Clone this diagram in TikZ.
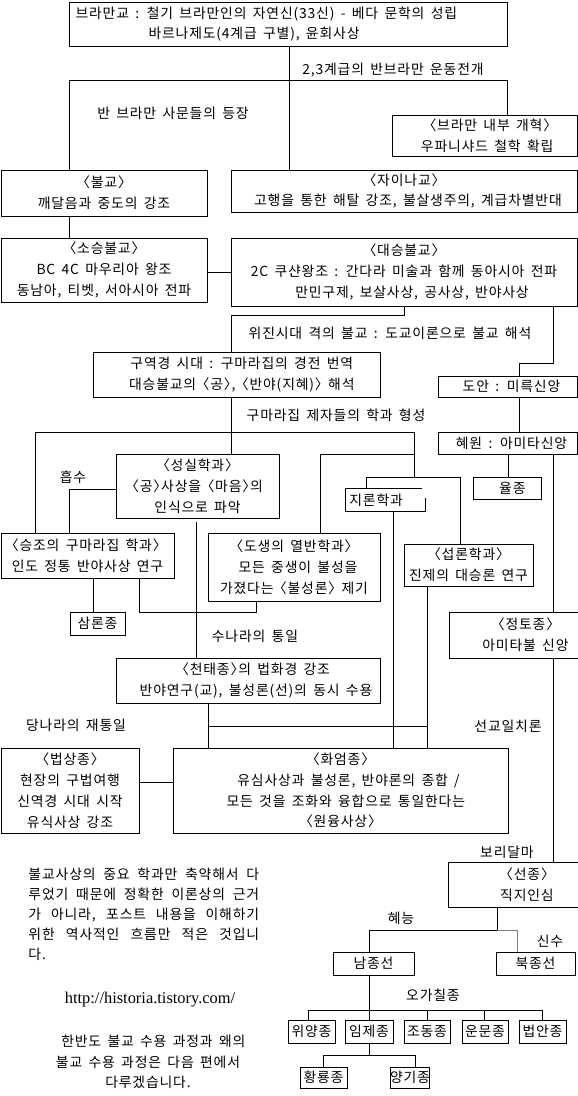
\documentclass[tikz,border=0pt]{standalone}
\usepackage{fontspec}
\setmainfont{Noto Sans CJK KR}[WordSpace=1.6, LetterSpace=6, RawFeature=+halt]
\newfontfamily\urlfont{Liberation Serif}
\usetikzlibrary{calc}
\newcommand\kfs{\fontsize{10.4pt}{15.6pt}\selectfont}
\newcommand\mkbox[7][]{\node[bx,#1, minimum width={(#5-#3)*0.75pt}, minimum height={(#6-#4)*0.75pt}] (#2) at ({(#3+#5)/2},{(#4+#6)/2}) {#7};}
\begin{document}
\begin{tikzpicture}[x=0.75pt,y=-0.75pt,line width=0.75pt,
  bx/.style={draw, inner sep=0pt, align=center, font=\kfs},
  lbl/.style={inner sep=0pt, font=\kfs}]
\fill[white] (0,0) rectangle (578,1096);
\useasboundingbox (0,0) rectangle (578,1096);
\clip (0,0) rectangle (578,1096);

% ---------- boxes ----------
\mkbox{top}{69}{2}{507}{46}{}
\node[lbl, anchor=west] (t1) at (75,14) {브라만교 : 철기 브라만인의 자연신(33신) - 베다 문학의 성립};
\node[lbl, anchor=west] (t2) at (148,34) {바르나제도(4계급 구별), 윤회사상};
\mkbox{brm}{392}{115}{577}{156}{\hspace*{8pt}〈브라만 내부 개혁〉\\\hspace*{4pt}우파니샤드 철학 확립}
\mkbox{bul}{1}{170}{207}{216}{〈불교〉\\깨달음과 중도의 강조}
\mkbox{jn}{231}{170}{577}{212}{〈자이나교〉\\\hspace*{6pt}고행을 통한 해탈 강조, 불살생주의, 계급차별반대}
\mkbox{sos}{1}{238}{207}{302}{〈소승불교〉\\BC 4C 마우리아 왕조\\동남아, 티벳, 서아시아 전파}
\mkbox{ds}{231}{238}{577}{306}{〈대승불교〉\\2C 쿠샨왕조 : 간다라 미술과 함께 동아시아 전파\\\hspace*{12pt}만민구제, 보살사상, 공사상, 반야사상}
\mkbox{gy}{93}{352}{380}{397}{\hspace*{8pt}구역경 시대 : 구마라집의 경전 번역\\\hspace*{8pt}대승불교의 〈공〉, 〈반야(지혜)〉 해석}
\mkbox{da}{438}{376}{577}{397}{\hspace*{6pt}도안 : 미륵신앙}
\mkbox{hw}{438}{432}{577}{454}{\hspace*{6pt}혜원 : 아미타신앙}
\mkbox{yj}{473}{477}{541}{499}{\hspace*{8pt}율종}
\mkbox{ss}{116}{454}{279}{518}{〈성실학과〉\\〈공〉사상을 〈마음〉의\\인식으로 파악}
\node[inner sep=0pt, minimum width={79*0.75pt}, minimum height={22*0.75pt}, font=\kfs] (jr) at (385.5,500) {\hspace*{-14pt}지론학과};
\draw ($(jr.north east)+(-4,0)$) -- (jr.north west) -- (jr.south west) -- (jr.south east) -- ($(jr.north east)+(0,9)$);
\mkbox[align=left]{sz}{1}{533}{174}{578}{〈승조의 구마라집 학과〉\\인도 정통 반야사상 연구}
\mkbox{dsg}{208}{533}{380}{601}{〈도생의 열반학과〉\\\hspace*{6pt}모든 중생이 불성을\\가졌다는 〈불성론〉 제기}
\mkbox{sr}{404}{544}{533}{586}{〈섭론학과〉\\진제의 대승론 연구}
\mkbox{sam}{70}{612}{125}{635}{삼론종}
\mkbox{jt}{449}{612}{602}{658}{〈정토종〉\\아미타불 신앙}
\mkbox{ct}{116}{658}{380}{703}{\hspace*{12pt}〈천태종〉의 법화경 강조\\\hspace*{12pt}반야연구(교), 불성론(선)의 동시 수용}
\mkbox{bs}{1}{748}{139}{833}{〈법상종〉\\현장의 구법여행\\신역경 시대 시작\\유식사상 강조}
\mkbox{hy}{173}{748}{508}{833}{〈화엄종〉\\\hspace*{12pt}유심사상과 불성론, 반야론의 종합 /\\\hspace*{8pt}모든 것을 조화와 융합으로 통일한다는\\〈원융사상〉}
\mkbox{sjong}{448}{862}{606}{907}{〈선종〉\\직지인심}
\mkbox{nam}{333}{952}{414}{975}{남종선}
\mkbox{buk}{496}{952}{575}{975}{북종선}
\mkbox{wy}{288}{1020}{335}{1043}{위양종}
\mkbox{im}{345}{1020}{393}{1043}{임제종}
\mkbox{jd}{404}{1020}{450}{1043}{조동종}
\mkbox{um}{462}{1020}{508}{1043}{운문종}
\mkbox{ba}{519}{1020}{566}{1043}{법안종}
\mkbox{hr}{300}{1067}{347}{1088}{황룡종}
\mkbox{yg}{391}{1067}{429}{1088}{양기종}

% ---------- labels ----------
\node[lbl] (lA) at (393,70) {2,3계급의 반브라만 운동전개};
\node[lbl] (lB) at (173,113) {반 브라만 사문들의 등장};
\node[lbl] (lC) at (390,333) {위진시대 격의 불교 : 도교이론으로 불교 해석};
\node[lbl] (lD) at (336,415) {구마라집 제자들의 학과 형성};
\node[lbl] (lE) at (73,477) {흡수};
\node[lbl] (lF) at (255,636) {수나라의 통일};
\node[lbl] (lG) at (76,725) {당나라의 재통일};
\node[lbl] (lH) at (508,726) {선교일치론};
\node[lbl] (lI) at (507,852) {보리달마};
\node[lbl] (lJ) at (401,918) {혜능};
\node[lbl] (lK) at (550,941) {신수};
\node[lbl] (lL) at (433,995) {오가칠종};

\node[inner sep=0pt, anchor=north west, align=left, font=\fontsize{10.4pt}{15pt}\selectfont] (note) at (28,867)
 {\makebox[173pt][s]{불교사상의 중요 학과만 축약해서 다}\\
  \makebox[173pt][s]{루었기 때문에 정확한 이론상의 근거}\\
  \makebox[173pt][s]{가 아니라, 포스트 내용을 이해하기}\\
  \makebox[173pt][s]{위한 역사적인 흐름만 적은 것입니}\\
  다.};
\node[inner sep=0pt, font=\urlfont\fontsize{12.3pt}{14pt}\selectfont] (url) at (150,1000) {http://historia.tistory.com/};
\node[inner sep=0pt, align=center, font=\fontsize{10.4pt}{15.5pt}\selectfont] (tail) at (148,1062)
 {\hspace*{8pt}한반도 불교 수용 과정과 왜의\\불교 수용 과정은 다음 편에서\\다루겠습니다.};

% ---------- connectors ----------
\draw (top.south -| 289,0) -- (jn.north -| 289,0);
\draw (bul.north -| 69,0) -- (69,80) -- (507,80) -- (brm.north -| 507,0);
\draw (bul.south -| 69,0) -- (sos.north -| 69,0);
\draw (sos.east |- 0,272) -- (ds.west |- 0,272);
\draw (ds.south -| 404,0) -- (404,315) -- (231,315) -- (gy.north -| 231,0);
\draw (gy.south -| 231,0) -- (ss.north -| 231,0);
\draw (sz.north -| 35,0) -- (35,432) -- (414,432) -- (414,477);
\draw (414,454) -- (320,454) -- (dsg.north -| 320,0);
\draw (jr.north -| 366,0) -- (366,477) -- (460,477) -- (sr.north -| 460,0);
\draw (ss.west |- 0,489) -- (69,489) -- (sz.north -| 69,0);
\draw (sz.south -| 93,0) -- (sam.north -| 93,0);
\draw (sz.south -| 139,0) -- (139,612) -- (256,612) -- (dsg.south -| 256,0);
\coordinate (ssfree) at (196,522);
\draw (ssfree) -- (ct.north -| ssfree);
\draw (ct.south -| 208,0) -- (hy.north -| 208,0);
\draw (208,726) -- (427,726);
\draw (jr.south -| 393,0) -- (hy.north -| 393,0);
\draw (sr.south -| 427,0) -- (hy.north -| 427,0);
\draw (bs.east |- 0,782) -- (hy.west |- 0,782);
\draw (ds.south -| 553,0) -- (553,363) -- (519,363) -- (da.north -| 519,0);
\draw (da.south -| 519,0) -- (hw.north -| 519,0);
\draw (hw.south -| 508,0) -- (yj.north -| 508,0);
\draw (hw.south -| 553,0) -- (jt.north -| 553,0);
\draw (jt.south -| 553,0) -- (sjong.north -| 553,0);
\draw (sjong.south -| 497,0) -- (497,930) -- (369,930) -- (nam.north -| 369,0);
\draw[gray] (497,930) -- (517,930) -- (buk.north -| 517,0);
\draw (nam.south -| 369,0) -- (im.north -| 369,0);
\draw (wy.north -| 308,0) -- (308,1010) -- (542,1010) -- (ba.north -| 542,0);
\draw (jd.north -| 427,0) -- (427,1010);
\draw (um.north -| 484,0) -- (484,1010);
\draw (im.south -| 369,0) -- (369,1055);
\draw (hr.north -| 323,0) -- (323,1055) -- (415,1055) -- (yg.north -| 415,0);
\end{tikzpicture}
\end{document}
